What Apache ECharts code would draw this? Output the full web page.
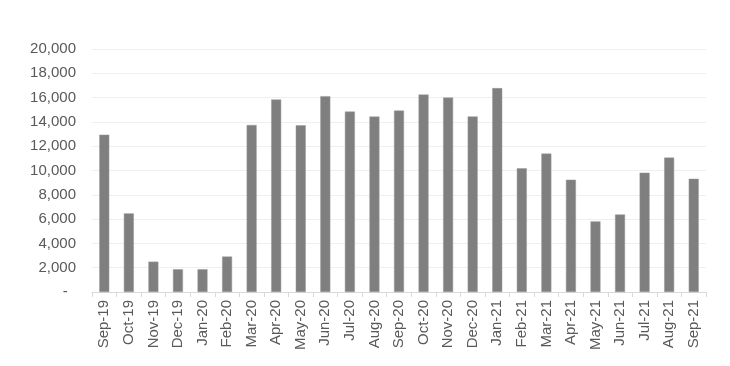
<!DOCTYPE html>
<html>
<head>
<meta charset="utf-8">
<script src="https://cdn.jsdelivr.net/npm/echarts@6/dist/echarts.min.js"></script>
<style>html,body{margin:0;padding:0;background:#fff}#c{width:730px;height:366px}</style>
</head>
<body>
<div id="c"></div>
<script>
const categories = ['Sep-19','Oct-19','Nov-19','Dec-19','Jan-20','Feb-20','Mar-20','Apr-20','May-20','Jun-20','Jul-20','Aug-20','Sep-20','Oct-20','Nov-20','Dec-20','Jan-21','Feb-21','Mar-21','Apr-21','May-21','Jun-21','Jul-21','Aug-21','Sep-21'];
const values = [12950,6470,2500,1870,1870,2920,13750,15850,13720,16120,14850,14440,14930,16250,16000,14450,16780,10180,11390,9240,5810,6380,9820,11060,9320];
const yMin = 0, yMax = 20000, yStep = 2000;

const chart = echarts.init(document.getElementById('c'), null, {renderer: 'canvas'});
chart.setOption({
  animation: false,
  backgroundColor: '#ffffff',
  grid: {left: 92, right: 24, top: 49, bottom: 74, containLabel: false},
  xAxis: {
    type: 'category',
    data: categories,
    axisLine: {show: true, lineStyle: {color: '#d9d9d9', width: 1}},
    axisTick: {show: true, alignWithLabel: false, length: 5, lineStyle: {color: '#d9d9d9'}},
    axisLabel: {rotate: 90, color: '#595959', fontSize: 15, fontFamily: 'Liberation Sans, Arial, sans-serif', margin: 8, interval: 0}
  },
  yAxis: {
    type: 'value',
    min: yMin, max: yMax, interval: yStep,
    axisLine: {show: false},
    axisTick: {show: false},
    splitLine: {lineStyle: {color: '#efefef', width: 1}},
    axisLabel: {
      color: '#595959', fontSize: 15, fontFamily: 'Liberation Sans, Arial, sans-serif', margin: 16,
      formatter: v => v === 0 ? '-  ' : v.toLocaleString('en-US')
    }
  },
  series: [{
    type: 'bar',
    data: values,
    barWidth: 10,
    itemStyle: {color: '#7f7f7f', borderColor: '#9a9a9a', borderWidth: 0.5}
  }]
});
</script>
</body>
</html>
